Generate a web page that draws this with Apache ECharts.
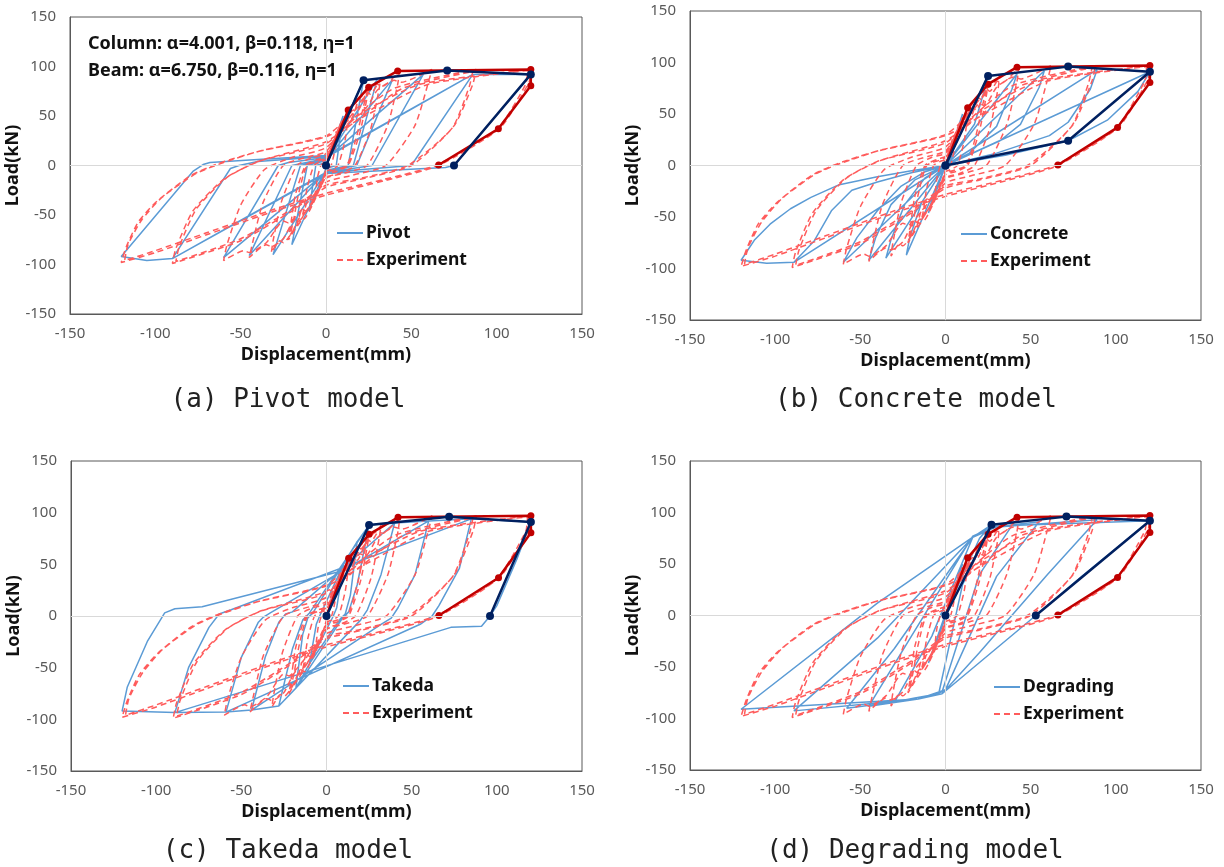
<!DOCTYPE html>
<html><head><meta charset="utf-8">
<script src="https://cdn.jsdelivr.net/npm/echarts@6/dist/echarts.min.js"></script>
<style>html,body{margin:0;padding:0;background:#fff}#c{width:1224px;height:867px}</style>
</head><body><div id="c"></div>
<script>
// ---------- data ----------
const modelNames = ['Pivot', 'Concrete', 'Takeda', 'Degrading'];
const captions = ['(a) Pivot model', '(b) Concrete model', '(c) Takeda model', '(d) Degrading model'];
const annotationLines = ['Column: α=4.001, β=0.118, η=1', 'Beam: α=6.750, β=0.116, η=1'];
const xTitle = 'Displacement(mm)';
const yTitle = 'Load(kN)';
const axisMin = -150, axisMax = 150, axisStep = 50;

const experiment = [
[0,0],[2,14],[4,25],[7,35],[6,28],[5,14],[3,0],[1,-3],[0,-4],[-2,-16],[-4,-25],[-7,-32],[-6,-25],[-5,-12],[-3,0],[-1,3],[0,4],
[4,22],[8,40],[11,48],[14,56],[13,48],[11,24],[7,0],[3,-4],[0,-6],[-4,-24],[-8,-38],[-14,-52],[-13,-44],[-11,-22],[-7,0],[-3,4],[0,6],
[6,32],[10,46],[12,44],[15,58],[19,66],[21,64],[25,79],[24,68],[20,34],[13,0],[6,-6],[0,-9],[-6,-32],[-9,-40],[-11,-38],[-14,-54],[-18,-64],[-22,-75],[-21,-64],[-18,-30],[-12,0],[-5,6],[0,9],
[8,34],[12,46],[14,44],[18,60],[22,68],[24,74],[22,60],[18,30],[12,0],[0,-8],[-8,-36],[-12,-46],[-14,-44],[-17,-60],[-21,-70],[-19,-55],[-16,-28],[-11,0],[0,8],
[8,38],[12,50],[15,48],[19,66],[24,74],[26,72],[32,88],[31,76],[26,36],[17,0],[8,-8],[0,-12],[-8,-40],[-13,-54],[-15,-52],[-20,-68],[-25,-78],[-27,-76],[-32,-88],[-31,-76],[-26,-36],[-17,0],[-8,8],[0,12],
[10,42],[16,56],[18,54],[24,74],[30,82],[33,80],[43,95],[42,82],[36,40],[24,0],[10,-8],[0,-13],[-10,-42],[-16,-56],[-18,-54],[-25,-74],[-32,-82],[-35,-80],[-45,-93],[-43,-78],[-37,-38],[-25,0],[-10,9],[0,14],
[12,44],[20,60],[23,58],[30,76],[40,86],[44,84],[62,97],[60,84],[52,40],[35,0],[15,-10],[0,-17],[-15,-46],[-22,-58],[-25,-56],[-35,-78],[-45,-88],[-48,-86],[-60,-96],[-58,-80],[-50,-40],[-36,-4],[-20,8],[0,18],
[15,46],[40,78],[88,97],[86,82],[75,40],[50,0],[20,-14],[0,-22],[-20,-46],[-50,-76],[-90,-99],[-88,-84],[-78,-46],[-60,-14],[-40,4],[0,24],
[20,48],[45,78],[86,95],[84,80],[74,38],[48,0],[20,-13],[0,-20],[-20,-44],[-50,-74],[-88,-97],[-86,-82],[-76,-44],[-58,-12],[-38,5],[0,22],
[20,52],[55,82],[120,97],[119,84],[102,38],[66,0],[35,-15],[0,-30],[-30,-46],[-70,-70],[-100,-88],[-120,-98],[-117,-82],[-110,-57],[-99,-36],[-79,-10],[-63,2],[-40,14],[0,29],
[25,52],[60,82],[118,96],[117,82],[100,36],[64,0],[34,-14],[0,-28],[-30,-44],[-70,-68],[-100,-86],[-118,-96],[-116,-80],[-108,-55],[-96,-32],[-76,-8],[-60,3],[-38,15],[0,30],[14,50]
];

const pivotModel = [
[0,0],[10,50],[6,0],[0,-3],[-10,-46],[-6,0],[0,3],
[22,86],[13,0],[0,-5],[-20,-80],[-11,0],[0,5],
[30,87],[16,0],[0,-6],[-31,-90],[-15,0],[0,6],
[39,87],[18,0],[0,-6],[-45,-91],[-20,0],[0,7],
[57,92],[27,0],[0,-7],[-60,-93],[-28,0],[-22,3],[0,8],
[86,92],[50,0],[0,-7],[-90,-94],[-56,-3],[-51,0],[-40,4],[0,9],
[86,92],[120,92],[75,0],[70,-2],[0,-8],[-90,-94],[-105,-96],[-120,-92],[-78,-6],[-72,1],[-68,3],[-40,6],[0,10]
];

const concreteModel = [
[0,0],[10,50],[7,30],[0,0],[-10,-46],[-7,-27],[0,0],
[25,87],[23,74],[17,40],[0,0],[-23,-87],[-21,-70],[-14,-36],[0,0],
[42,89],[39,74],[30,38],[14,12],[0,0],[-35,-90],[-32,-72],[-24,-38],[-12,-12],[0,0],
[58,92],[55,76],[44,40],[32,24],[0,0],[-45,-92],[-41,-70],[-32,-38],[-18,-14],[0,0],
[89,93],[85,74],[72,42],[61,29],[30,12],[0,0],[-60,-94],[-52,-70],[-40,-44],[-26,-20],[-12,-6],[0,0],
[120,91],[113,72],[95,44],[72,24],[35,10],[0,0],[-89,-94],[-77,-73],[-67,-44],[-55,-24],[-40,-16],[-20,-7],[0,0],
[-89,-94],[-105,-95],[-120,-92],[-112,-72],[-103,-57],[-91,-42],[-79,-31],[-63,-19],[-40,-11],[-20,-5],[0,0]
];

const takedaModel = [
[0,0],[10,50],[6,8],[4,0],[-10,-46],
[-6,-8],[-4,0],[10,50],[18,72],
[14,20],[11,2],[8,-3],[-10,-46],[-18,-70],
[-14,-18],[-11,-2],[-8,3],[18,72],[25,88],
[18,30],[13,4],[9,-3],[-18,-70],[-28,-87],
[-20,-32],[-14,-4],[-10,3],[25,88],[40,90],
[32,40],[24,6],[20,-4],[-28,-87],[-44,-91],
[-36,-40],[-28,-6],[-24,2],[-20,4],[40,90],[60,92],
[52,40],[42,8],[38,-2],[32,-8],[-44,-91],[-59,-93],
[-50,-40],[-40,-6],[-37,-1],[-33,3],[60,92],[85,94],
[78,46],[66,10],[62,0],[55,-8],[-59,-93],[-89,-93.5],
[-81,-50],[-69,-11],[-63,2],[-56,6],[85,94],[120,91],
[112,56],[100,10],[96,0],[91,-10],[73,-11],[-89,-93.5],[-120,-92],
[-117,-69],[-105,-24],[-95,3],[-89,7],[-73,9],[10,44]
];

const degradingModel = [
[0,0],[10,50],[0,-2],[-10,-46],[0,2],[20,75],[27,88],
[10,30],[-4,-76],[-18,-80],[-30,-84],
[-8,-20],[16,76],[27,88],[40,90],
[20,40],[-2,-74],[-16,-81],[-45,-88],
[-20,-20],[16,77],[28,86],[55,91],
[30,38],[0,-72],[-16,-81],[-58,-90],
[-30,-32],[16,76],[30,86],[89,93],
[60,40],[20,-36],[-2,-76],[-16,-81],[-89,-92.6],
[-40,-22],[16,76],[30,87],[120,92],
[80,38],[53,0],[-2,-76],[-16,-81],[-120,-91],
[-40,12],[16,76],[27,88]
];

const expBackbone = [[0,0],[13,56],[25,79],[42,95.5],[120,97],[120,80.5],[101,37],[66,0.5]];
const pivotBackbone = [[0,0],[22,86],[71,96],[120,92],[75,0]];
const concreteBackbone = [[0,0],[25,87],[72,96],[120,91],[72,24],[0,0]];
const takedaBackbone = [[0,0],[25,88],[72,96],[120,91],[96,0]];
const degradingBackbone = [[0,0],[27,88],[71,96],[120,92],[53,0]];

const models = [pivotModel, concreteModel, takedaModel, degradingModel];
const modelBackbones = [pivotBackbone, concreteBackbone, takedaBackbone, degradingBackbone];

// ---------- layout ----------
const grids = [
  {left:70, top:17, width:512, height:297},
  {left:690, top:11, width:511, height:309},
  {left:71, top:461, width:511, height:310},
  {left:690, top:461, width:511, height:309}
];
const legendPos = [{left:331, top:219}, {left:955, top:220}, {left:337, top:672}, {left:988, top:673}];
const captionPos = [[288,400],[916,400],[288,851],[915,851]];

const blue = '#5B9BD5', red = '#FF5B5B', darkRed = '#C00000', navy = '#002060';
const tickFont = 'Noto Sans';

const xAxes = [], yAxes = [], series = [], legends = [], graphics = [];
grids.forEach((g, i) => {
  xAxes.push({
    gridIndex:i, type:'value', min:axisMin, max:axisMax, interval:axisStep,
    axisLine:{onZero:false, lineStyle:{color:'#595959', width:1}},
    axisTick:{show:false}, splitLine:{show:false},
    axisLabel:{color:'#595959', fontSize:15, fontFamily:tickFont, margin:12},
    name:xTitle, nameLocation:'middle', nameGap:32,
    nameTextStyle:{fontWeight:'bold', fontSize:18, color:'#111', fontFamily:tickFont}
  });
  yAxes.push({
    gridIndex:i, type:'value', min:axisMin, max:axisMax, interval:axisStep,
    axisLine:{onZero:false, lineStyle:{color:'#595959', width:1}},
    axisTick:{show:false}, splitLine:{show:false},
    axisLabel:{color:'#595959', fontSize:15, fontFamily:tickFont, margin:14},
    name:yTitle, nameLocation:'middle', nameGap:38,
    nameTextStyle:{fontWeight:'bold', fontSize:18, color:'#111', fontFamily:tickFont}
  });
  series.push({
    type:'line', xAxisIndex:i, yAxisIndex:i, data:[], symbol:'none', silent:true, z:1,
    markLine:{silent:true, symbol:'none', label:{show:false}, animation:false,
      lineStyle:{color:'#D9D9D9', type:'solid', width:1},
      data:[{xAxis:0},{yAxis:0}]}
  });
  series.push({
    type:'line', name:modelNames[i], xAxisIndex:i, yAxisIndex:i, data:models[i],
    symbol:'none', z:2, lineStyle:{color:blue, width:1.5}, itemStyle:{color:blue}
  });
  series.push({
    type:'line', name:'Experiment', xAxisIndex:i, yAxisIndex:i, data:experiment,
    symbol:'none', smooth:0.2, z:3, lineStyle:{color:red, width:1.5, type:[6,4]}, itemStyle:{color:red}
  });
  series.push({
    type:'line', xAxisIndex:i, yAxisIndex:i, data:expBackbone, symbol:'circle', symbolSize:7, z:4,
    lineStyle:{color:darkRed, width:2.5}, itemStyle:{color:darkRed}
  });
  series.push({
    type:'line', xAxisIndex:i, yAxisIndex:i, data:modelBackbones[i], symbol:'circle', symbolSize:8, z:5,
    lineStyle:{color:navy, width:2.5}, itemStyle:{color:navy}
  });
  legends.push({
    left:legendPos[i].left, top:legendPos[i].top, orient:'vertical', itemWidth:26, itemHeight:16, itemGap:9,
    selectedMode:false, itemStyle:{opacity:0},
    data:[modelNames[i], 'Experiment'],
    textStyle:{fontFamily:tickFont, fontWeight:'bold', fontSize:17.5, color:'#111', padding:[0,0,0,-2]}
  });
  graphics.push({
    type:'text', x:captionPos[i][0], y:captionPos[i][1],
    style:{text:captions[i], align:'center', verticalAlign:'middle', fontSize:26, fontFamily:'DejaVu Sans Mono', fill:'#222'}
  });
});
graphics.push({type:'text', x:88, y:44, style:{text:annotationLines[0], align:'left', verticalAlign:'middle', fontSize:18, fontWeight:'bold', fontFamily:'Noto Sans', fill:'#111'}});
graphics.push({type:'text', x:88, y:71, style:{text:annotationLines[1], align:'left', verticalAlign:'middle', fontSize:18, fontWeight:'bold', fontFamily:'Noto Sans', fill:'#111'}});

const chart = echarts.init(document.getElementById('c'), null, {renderer:'canvas'});
chart.setOption({
  animation:false,
  backgroundColor:'#fff',
  grid: grids.map(g => Object.assign({show:true, borderColor:'#595959', borderWidth:1, backgroundColor:'transparent'}, g)),
  xAxis:xAxes, yAxis:yAxes, series, legend:legends, graphic:graphics
});
</script></body></html>
